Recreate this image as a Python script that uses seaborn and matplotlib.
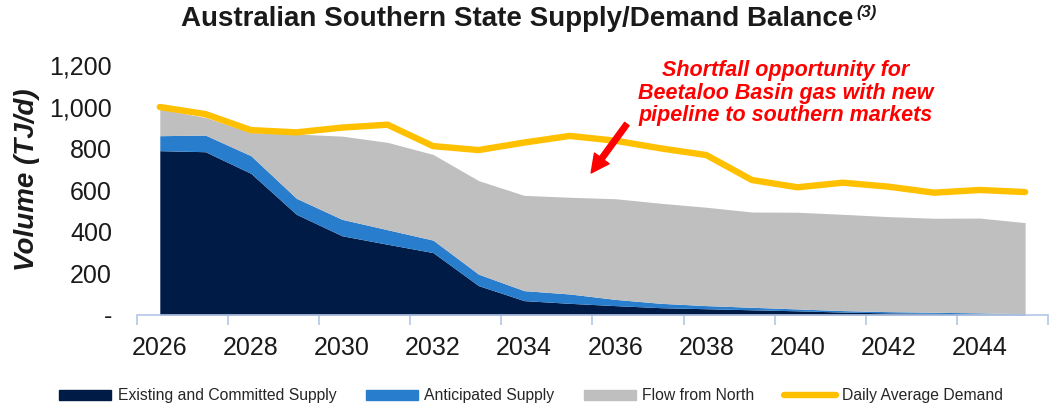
import pandas as pd
import matplotlib.pyplot as plt
import seaborn as sns
from matplotlib.patches import Patch
from matplotlib.lines import Line2D


# values (TJ/d)
years = [2026, 2027, 2028, 2029, 2030, 2031, 2032, 2033, 2034, 2035,
         2036, 2037, 2038, 2039, 2040, 2041, 2042, 2043, 2044, 2045]
existing = [790, 785, 681, 484, 381, 340, 300, 141, 69, 56,
            45, 35, 30, 25, 20, 14, 10, 8, 5, 3]
anticipated = [72, 80, 85, 77, 79, 70, 60, 55, 48, 45,
               30, 21, 15, 12, 9, 7, 6, 5, 5, 3]
north = [128, 85, 111, 309, 400, 420, 412, 450, 458, 465,
         484, 481, 473, 458, 465, 463, 457, 452, 456, 438]
demand = [1000, 966, 889, 878, 901, 915, 812, 793, 829, 861,
          838, 801, 769, 649, 614, 636, 617, 588, 601, 591]
y_ticks = [0, 200, 400, 600, 800, 1000, 1200]
y_labels = ['-', '200', '400', '600', '800', '1,000', '1,200']

c_exist = '#001b45'
c_antic = '#287dcd'
c_north = '#bfbfbf'
c_demand = '#ffc000'
c_axis = '#b4c7e7'

sns.set_theme(style='white')
plt.rcParams['font.family'] = ['Liberation Sans', 'DejaVu Sans']

df = pd.DataFrame({'pos': range(len(years)), 'year': years, 'demand': demand})

fig = plt.figure(figsize=(10.5, 4.08), dpi=100)
ax = fig.add_axes([0.1305, 0.228, 0.8675, 0.6117])

ax.stackplot(df['pos'], existing, anticipated, north,
             colors=[c_exist, c_antic, c_north], linewidth=0)
sns.lineplot(data=df, x='pos', y='demand', color=c_demand, lw=4.6,
             solid_capstyle='round', ax=ax)

ax.set_xlim(-0.5, len(years) - 0.5)
ax.set_ylim(0, 1200)
ax.set_xticks(df['pos'][::2])
ax.set_xticklabels([str(y) for y in years[::2]], fontsize=18, color='#1a1a1a')
ax.set_xticks([p - 0.5 for p in range(0, len(years) + 1, 2)], minor=True)
ax.tick_params(axis='x', which='major', length=0, pad=15)
ax.tick_params(axis='x', which='minor', length=7, width=1.2, color=c_axis,
               direction='out', bottom=True)
ax.set_yticks(y_ticks)
ax.set_yticklabels(y_labels, fontsize=18, color='#1a1a1a')
ax.tick_params(axis='y', length=0, pad=18)
ax.set_xlabel('')
ax.set_ylabel('')

for s in ['top', 'right', 'left']:
    ax.spines[s].set_visible(False)
ax.spines['bottom'].set_color(c_axis)
ax.spines['bottom'].set_linewidth(1.2)

fig.text(0.026, 0.559, 'Volume (TJ/d)', rotation=90, ha='center', va='center',
         fontsize=20, fontweight='bold', fontstyle='italic', color='#1a1a1a')

# title with superscript note
t = fig.text(0.493, 0.953, 'Australian Southern State Supply/Demand Balance',
             ha='center', va='center', fontsize=20, fontweight='bold', color='#1a1a1a')
fig.canvas.draw()
bb = t.get_window_extent()
fig.text(bb.x1 / fig.bbox.width + 0.002, 0.97, '(3)', ha='left', va='center',
         fontsize=12, fontweight='bold', fontstyle='italic', color='#1a1a1a')

fig.text(0.748, 0.772,
         'Shortfall opportunity for\nBeetaloo Basin gas with new\npipeline to southern markets',
         ha='center', va='center', multialignment='center', linespacing=1.1,
         fontsize=15.5, fontweight='bold', fontstyle='italic', color='#ff0000')
ax.annotate('', xy=(0.563, 0.576), xycoords='figure fraction',
            xytext=(0.597, 0.696), textcoords='figure fraction',
            arrowprops=dict(facecolor='#ff0000', edgecolor='#ff0000',
                            width=4, headwidth=13, headlength=13, shrink=0))

handles = [Patch(color=c_exist), Patch(color=c_antic), Patch(color=c_north),
           Line2D([], [], color=c_demand, lw=4.6, solid_capstyle='round')]
labels = ['Existing and Committed Supply', 'Anticipated Supply',
          'Flow from North', 'Daily Average Demand']
fig.legend(handles, labels, loc='center', bbox_to_anchor=(0.506, 0.03), ncol=4,
           frameon=False, fontsize=11.3, handlelength=3.3, handleheight=0.6,
           handletextpad=0.4, columnspacing=1.9, labelcolor='#262626')

plt.savefig('out.png', dpi=100)
